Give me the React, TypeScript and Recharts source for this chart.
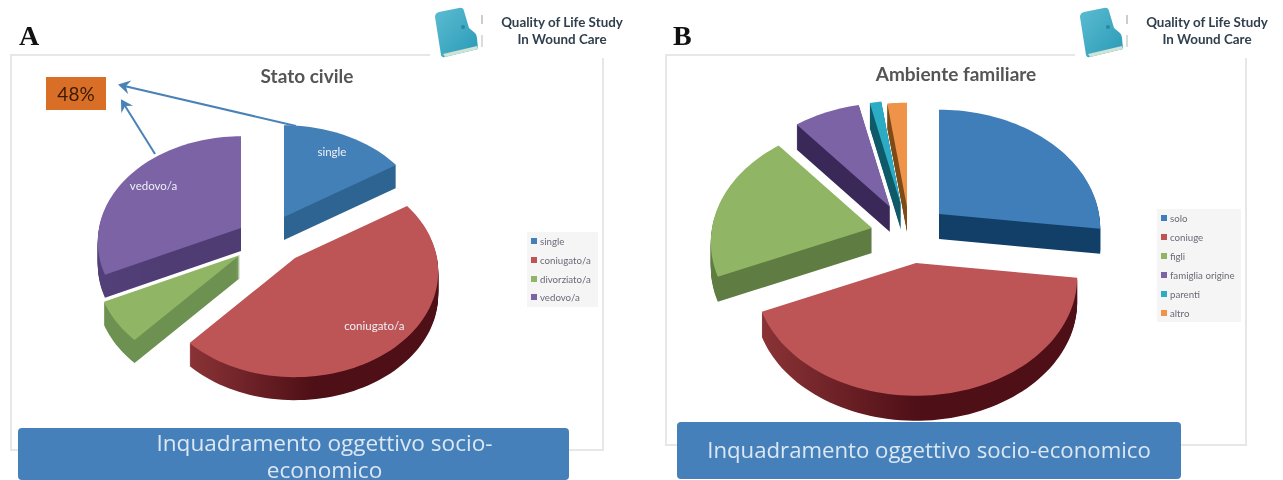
import { PieChart, Pie, Legend } from "recharts";

// panel A - stato civile
const civilNames = ["single", "coniugato/a", "divorziato/a", "vedovo/a"];
const civilValues = [16, 45.7, 6.3, 32];
const civilColors = ["#4480b8", "#bd5456", "#8fb565", "#7b63a6"];
const civilSides = ["#2d6491", "#8a3336", "#6c9150", "#534079"];
const civilSideEnds = ["#2d6491", "#4e0f16", "#6c9150", "#4e3c73"];
const civilLabels = ["single", "coniugato/a", "", "vedovo/a"];
// how far each slice is pulled out of the pie
const civilPull = [
  [24, -23],
  [35, 18],
  [-20, 15],
  [-19, -12],
];

// panel B - ambiente familiare
const familyNames = ["solo", "coniuge", "figli", "famiglia origine", "parenti", "altro"];
const familyValues = [27, 41.5, 20.5, 7.5, 1.3, 2.2];
const familyColors = ["#3f7eb8", "#bd5456", "#8fb565", "#7b63a6", "#2cabc4", "#ef9348"];
const familySides = ["#123f68", "#8a3336", "#5f7c42", "#3a2858", "#0f5a68", "#7d4a18"];
const familySideEnds = ["#123f68", "#4e0f16", "#5f7c42", "#3a2858", "#0f5a68", "#7d4a18"];
const familyPull = [
  [37, -16],
  [14, 33],
  [-30, -2],
  [-12, -23],
  [-1, -25],
  [5, -23],
];

const buildRows = (names: string[], values: number[], colors: string[]) =>
  names.map((name, i) => ({ name, value: values[i], fill: colors[i] }));

type View = { tilt: number; persp: number; depth: number };

// disc -> screen, near edge gets a bit bigger
const project = (deg: number, r: number, view: View) => {
  const rad = (deg * Math.PI) / 180;
  const u = Math.cos(rad);
  const v = -Math.sin(rad);
  const s = 1 / (1 - view.persp * v);
  return [u * r * s, v * r * view.tilt * s];
};

const makeSlice =
  (prefix: string, view: View, pull: number[][], sides: string[], sideEnds: string[]) => (props: any) => {
    const { cx, cy, outerRadius, startAngle, endAngle, fill, index } = props;
    const [dx, dy] = pull[index];
    const ox = cx + dx;
    const oy = cy + dy;
    let d = `M${ox},${oy}`;
    const steps = Math.max(6, Math.ceil(Math.abs(endAngle - startAngle) / 2));
    for (let i = 0; i <= steps; i++) {
      const a = startAngle + ((endAngle - startAngle) * i) / steps;
      const [x, y] = project(a, outerRadius, view);
      d += `L${ox + x},${oy + y}`;
    }
    d += "Z";
    const gradId = `${prefix}-side-${index}`;
    const layers = [];
    for (let i = view.depth; i > 0; i--) {
      layers.push(<path key={i} d={d} fill={`url(#${gradId})`} transform={`translate(0,${i})`} />);
    }
    return (
      <g>
        <defs>
          <linearGradient id={gradId} x1="0" y1="0" x2="1" y2="0">
            <stop offset="0" stopColor={sides[index]} />
            <stop offset="0.5" stopColor={sideEnds[index]} />
            <stop offset="1" stopColor={sideEnds[index]} />
          </linearGradient>
        </defs>
        {layers}
        <path d={d} fill={fill} />
      </g>
    );
  };

const makeLabel = (view: View, pull: number[][], labels: string[]) => (props: any) => {
  const { cx, cy, outerRadius, midAngle, index } = props;
  const [x, y] = project(midAngle, outerRadius * 0.78, view);
  return (
    <text
      x={cx + pull[index][0] + x}
      y={cy + pull[index][1] + y}
      textAnchor="middle"
      dominantBaseline="middle"
      fill="#eef0f6"
      fontSize={11.5}
      fontFamily="Lato"
    >
      {labels[index]}
    </text>
  );
};

const legendBox = (rowHeight: number) => (props: any) => (
  <div style={{ background: "#f5f5f5", padding: "0 2px 0 4px", boxSizing: "border-box" }}>
    {props.payload.map((item: any) => (
      <div
        key={item.value}
        style={{
          height: rowHeight,
          display: "flex",
          alignItems: "center",
          gap: 3,
          fontSize: 9.7,
          fontFamily: "Lato",
          color: "#6a6a78",
          whiteSpace: "nowrap",
        }}
      >
        <span style={{ width: 6, height: 6, background: item.color, display: "inline-block" }} />
        {item.value}
      </div>
    ))}
  </div>
);

function Logo({ left, id }: { left: number; id: string }) {
  return (
    <div style={{ position: "absolute", left, top: 0, width: 210, height: 58, background: "#fff" }}>
      <svg width={60} height={58} style={{ position: "absolute", left: 2, top: 0 }}>
        <defs>
          <linearGradient id={id} x1="0" y1="0" x2="1" y2="1">
            <stop offset="0" stopColor="#5bbcd2" />
            <stop offset="1" stopColor="#2a9ab6" />
          </linearGradient>
        </defs>
        <path
          d="M3,17 Q3,13 7,12 L27,8 Q31,7 32,11 L37,28 L43,33 Q45,35 45,38 L46,49 L13,57 Q10,58 9,55 Z"
          fill={`url(#${id})`}
        />
        <path d="M11,54 L45,46 L46,49 L13,57 Z" fill="#cfe3d6" />
        <circle cx={31} cy={27} r={2} fill="#2d86a3" />
        <line x1={50} y1={15} x2={50} y2={24} stroke="#bdbdbd" strokeWidth={1.5} />
        <line x1={50} y1={35} x2={50} y2={47} stroke="#cfcfcf" strokeWidth={1.5} />
      </svg>
      <div
        style={{
          position: "absolute",
          left: 55,
          top: 14,
          width: 154,
          textAlign: "center",
          fontFamily: "Lato",
          fontWeight: 700,
          fontSize: 13.4,
          lineHeight: "17px",
          color: "#2f3f4c",
          whiteSpace: "nowrap",
        }}
      >
        Quality of Life Study
        <br />
        In Wound Care
      </div>
    </div>
  );
}

const letterStyle: any = {
  position: "absolute",
  fontFamily: "Liberation Serif",
  fontWeight: 700,
  fontSize: 28,
  lineHeight: "28px",
  color: "#111",
};
const titleStyle: any = {
  position: "absolute",
  fontFamily: "Lato",
  fontWeight: 700,
  fontSize: 19,
  lineHeight: "22px",
  color: "#555",
  textAlign: "center",
  whiteSpace: "nowrap",
};
const frameStyle: any = {
  position: "absolute",
  border: "2px solid #e6e8e8",
  boxSizing: "border-box",
  background: "#fff",
};
const bannerStyle: any = {
  position: "absolute",
  background: "#4680ba",
  borderRadius: 4,
  color: "#dbe7f2",
  fontFamily: "Open Sans",
  textAlign: "center",
  boxSizing: "border-box",
};

const viewA: View = { tilt: 0.73, persp: 0.13, depth: 23 };
const viewB: View = { tilt: 0.73, persp: 0.12, depth: 25 };
const noMargin = { top: 0, right: 0, bottom: 0, left: 0 };

export default function App() {
  return (
    <div
      style={{
        position: "absolute",
        left: 0,
        top: 0,
        width: 1283,
        height: 480,
        overflow: "hidden",
        background: "#fff",
        filter: "blur(0.5px)",
      }}
    >
      <div style={{ ...frameStyle, left: 10, top: 54, width: 594, height: 397 }} />
      <div style={{ ...frameStyle, left: 665, top: 54, width: 582, height: 392 }} />

      <Logo left={430} id="logoA" />
      <Logo left={1075} id="logoB" />
      <div style={{ ...letterStyle, left: 19, top: 22 }}>A</div>
      <div style={{ ...letterStyle, left: 673, top: 22 }}>B</div>
      <div style={{ ...titleStyle, left: 207, width: 200, top: 65 }}>Stato civile</div>
      <div style={{ ...titleStyle, left: 856, width: 200, top: 63 }}>Ambiente familiare</div>

      <div style={{ position: "absolute", left: 0, top: 0 }}>
        <PieChart width={640} height={480} margin={noMargin}>
          <Pie
            data={buildRows(civilNames, civilValues, civilColors)}
            dataKey="value"
            nameKey="name"
            cx={260}
            cy={240}
            outerRadius={142}
            startAngle={90}
            endAngle={-270}
            stroke="none"
            isAnimationActive={false}
            shape={makeSlice("civil", viewA, civilPull, civilSides, civilSideEnds)}
            label={makeLabel(viewA, civilPull, civilLabels)}
            labelLine={false}
            legendType="square"
          />
          <Legend
            layout="vertical"
            verticalAlign="top"
            align="right"
            itemSorter={null}
            wrapperStyle={{ left: 527, right: "auto", top: 232, width: 71 }}
            content={legendBox(18.7)}
          />
        </PieChart>
      </div>

      <div style={{ position: "absolute", left: 640, top: 0 }}>
        <PieChart width={640} height={480} margin={noMargin}>
          <Pie
            data={buildRows(familyNames, familyValues, familyColors)}
            dataKey="value"
            nameKey="name"
            cx={262}
            cy={230}
            outerRadius={160}
            startAngle={90}
            endAngle={-270}
            stroke="none"
            isAnimationActive={false}
            shape={makeSlice("family", viewB, familyPull, familySides, familySideEnds)}
            legendType="square"
          />
          <Legend
            layout="vertical"
            verticalAlign="top"
            align="right"
            itemSorter={null}
            wrapperStyle={{ left: 517, right: "auto", top: 209, width: 84 }}
            content={legendBox(18.9)}
          />
        </PieChart>
      </div>

      {/* 48% callout */}
      <div
        style={{
          position: "absolute",
          left: 46,
          top: 77,
          width: 60,
          height: 33,
          background: "#d96f27",
          color: "#3a1a05",
          fontFamily: "Lato",
          fontSize: 19,
          lineHeight: "33px",
          textAlign: "center",
        }}
      >
        48%
      </div>
      <svg width={320} height={170} style={{ position: "absolute", left: 0, top: 0 }}>
        <defs>
          <marker id="arrowHead" markerWidth="7" markerHeight="7" refX="5" refY="3.5" orient="auto">
            <path d="M0,0 L6,3.5 L0,7 L2,3.5 Z" fill="#4a82b8" />
          </marker>
        </defs>
        <line x1={296} y1={126} x2={120} y2={85} stroke="#4a82b8" strokeWidth={2} markerEnd="url(#arrowHead)" />
        <line x1={155} y1={154} x2={122} y2={101} stroke="#4a82b8" strokeWidth={2} markerEnd="url(#arrowHead)" />
      </svg>

      <div style={{ ...bannerStyle, left: 18, top: 428, width: 551, height: 52, fontSize: 22.6, lineHeight: "27px", paddingTop: 1, paddingLeft: 62 }}>
        Inquadramento oggettivo socio-
        <br />
        economico
      </div>
      <div style={{ ...bannerStyle, left: 677, top: 422, width: 504, height: 57, fontSize: 22.2, lineHeight: "56px" }}>
        Inquadramento oggettivo socio-economico
      </div>
    </div>
  );
}
